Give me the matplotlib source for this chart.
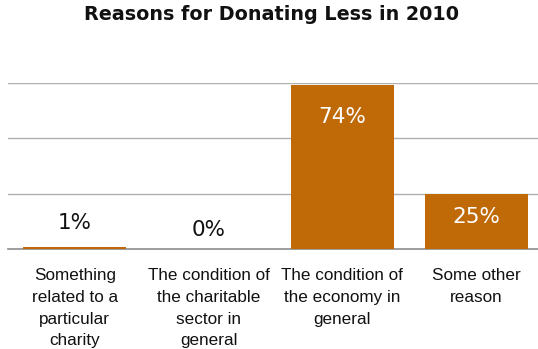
import matplotlib
matplotlib.use('Agg')
import matplotlib.pyplot as plt

reasons = [
    "Something\nrelated to a\nparticular\ncharity",
    "The condition of\nthe charitable\nsector in\ngeneral",
    "The condition of\nthe economy in\ngeneral",
    "Some other\nreason",
]
shares = [1, 0, 74, 25]
labels = ["1%", "0%", "74%", "25%"]

bar_color = '#BF6A06'

fig = plt.figure(figsize=(5.38, 3.49), dpi=100)
fig.patch.set_facecolor('white')

# plot area in pixel terms: left edge 8px, baseline 249px, top gridline 83px
W, H = 538.0, 349.0
ax = fig.add_axes([8 / W, 100 / H, 535 / W, 166 / H])

x = range(len(shares))
ax.bar(x, shares, width=0.77, color=bar_color, zorder=3)
ax.set_xlim(-0.5, len(shares) - 0.5)
ax.set_ylim(0, 75)
ax.set_yticks([25, 50, 75])
ax.yaxis.grid(True, color='#b0b0b0', linewidth=1.0, zorder=0)
ax.tick_params(axis='y', length=0, labelleft=False)

for side in ['top', 'right', 'left']:
    ax.spines[side].set_visible(False)
ax.spines['bottom'].set_color('#8c8c8c')
ax.spines['bottom'].set_linewidth(1.2)
ax.spines['bottom'].set_zorder(2)

ax.set_xticks(list(x))
ax.set_xticklabels(reasons, fontsize=12.3, family='Liberation Sans',
                   color='#111111', linespacing=1.55)
ax.tick_params(axis='x', length=0, pad=14)

# value labels: small bars get the label above, tall ones inside in white
for i, (v, lab) in enumerate(zip(shares, labels)):
    if v >= 10:
        off = -32 if v > 50 else -23
        ax.annotate(lab, (i, v), xytext=(0, off * 0.72), textcoords='offset points',
                    ha='center', va='center', color='white', fontsize=15.5,
                    family='DejaVu Sans', zorder=5)
    else:
        off = 24 if v > 0 else 19
        ax.annotate(lab, (i, v), xytext=(0, off * 0.72), textcoords='offset points',
                    ha='center', va='center', color='#111111', fontsize=15.5,
                    family='DejaVu Sans', zorder=5)

fig.text(272 / W, 1 - 15 / H, "Reasons for Donating Less in 2010",
         ha='center', va='center', fontsize=13.8, fontweight='bold',
         family='DejaVu Sans', color='#111111')

fig.savefig('out.png', dpi=100, facecolor='white')
